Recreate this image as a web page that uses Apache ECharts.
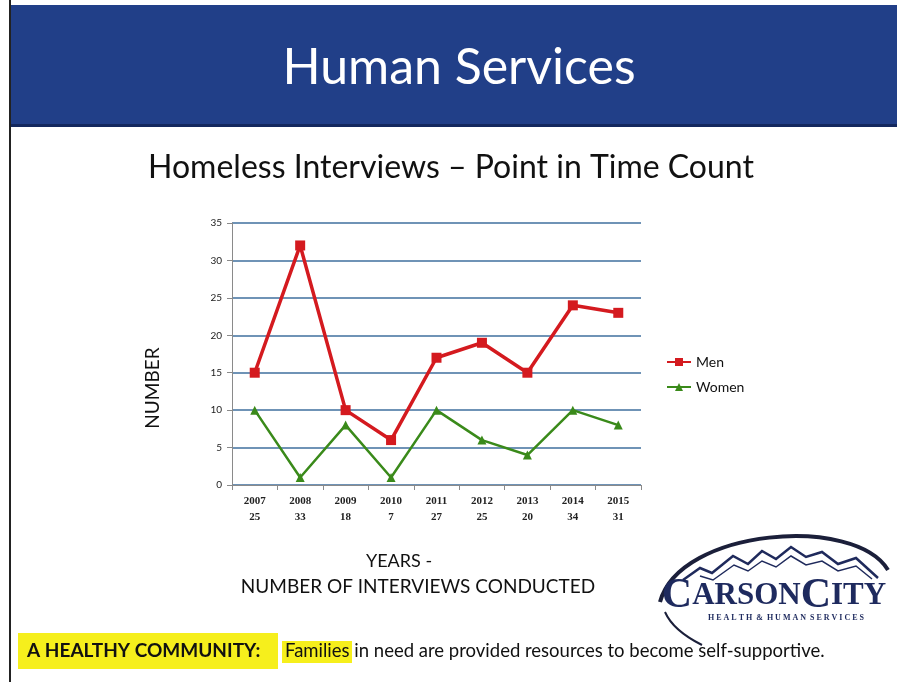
<!DOCTYPE html>
<html>
<head>
<meta charset="utf-8">
<script src="https://cdn.jsdelivr.net/npm/echarts@6/dist/echarts.min.js"></script>
<style>
  html, body { margin: 0; padding: 0; background: #fff; }
  #main { width: 897px; height: 682px; }
</style>
</head>
<body>
<div id="main"></div>
<script>
// years and number of interviews conducted (two-line tick labels)
const years = ['2007', '2008', '2009', '2010', '2011', '2012', '2013', '2014', '2015'];
const interviews = [25, 33, 18, 7, 27, 25, 20, 34, 31];
const men = [15, 32, 10, 6, 17, 19, 15, 24, 23];
const women = [10, 1, 8, 1, 10, 6, 4, 10, 8];

const categories = years.map((y, i) => y + '\n' + interviews[i]);
const font = 'Lato, "Open Sans", sans-serif';

const chart = echarts.init(document.getElementById('main'));

const option = {
  backgroundColor: '#ffffff',
  animation: false,
  grid: { left: 232, top: 223, right: 256, bottom: 197, containLabel: false },
  legend: {
    orient: 'vertical',
    left: 661,
    top: 350,
    itemGap: 11,
    itemWidth: 24,
    itemHeight: 10,
    textStyle: { fontFamily: font, fontSize: 14, color: '#111' },
    data: ['Men', 'Women']
  },
  xAxis: {
    type: 'category',
    data: categories,
    boundaryGap: true,
    axisLine: { lineStyle: { color: '#8a8a8a', width: 1 } },
    axisTick: { show: true, alignWithLabel: false, lineStyle: { color: '#8a8a8a' } },
    axisLabel: { fontFamily: '"Liberation Serif", serif', fontSize: 11, fontWeight: 'bold', color: '#222', lineHeight: 16, margin: 8 }
  },
  yAxis: {
    type: 'value',
    min: 0,
    max: 35,
    interval: 5,
    axisLine: { show: true, lineStyle: { color: '#8a8a8a', width: 1 } },
    axisTick: { show: true, length: 5, lineStyle: { color: '#8a8a8a' } },
    axisLabel: { fontFamily: font, fontSize: 10, color: '#222', margin: 10 },
    splitLine: { lineStyle: { color: '#3f6f9e', width: 1.5 } }
  },
  series: [
    {
      name: 'Men',
      type: 'line',
      data: men,
      symbol: 'rect',
      symbolSize: 10,
      lineStyle: { color: '#d41a1f', width: 3.5 },
      itemStyle: { color: '#d41a1f' },
      z: 3
    },
    {
      name: 'Women',
      type: 'line',
      data: women,
      symbol: 'triangle',
      symbolSize: 9,
      lineStyle: { color: '#3a8a1a', width: 2.5 },
      itemStyle: { color: '#3a8a1a' },
      z: 2
    }
  ],
  graphic: [
    // slide frame and header banner
    { type: 'rect', shape: { x: 10, y: 5, width: 887, height: 120 }, style: { fill: '#213f88' }, z: -1 },
    { type: 'rect', shape: { x: 10, y: 124, width: 887, height: 3 }, style: { fill: '#14285e' }, z: -1 },
    { type: 'line', shape: { x1: 10, y1: 0, x2: 10, y2: 682 }, style: { stroke: '#222', lineWidth: 2 } },
    { type: 'text', x: 459, y: 68, style: { text: 'Human Services', fill: '#ffffff', font: '50px ' + font, align: 'center', verticalAlign: 'middle' } },
    { type: 'text', x: 451, y: 168, style: { text: 'Homeless Interviews \u2013 Point in Time Count', fill: '#111', font: '32px ' + font, align: 'center', verticalAlign: 'middle' } },
    // axis titles
    { type: 'text', x: 153, y: 388, rotation: Math.PI / 2, style: { text: 'NUMBER', fill: '#111', font: '19px ' + font, align: 'center', verticalAlign: 'middle' } },
    { type: 'text', x: 399, y: 561, style: { text: 'YEARS -', fill: '#111', font: '18px ' + font, align: 'center', verticalAlign: 'middle' } },
    { type: 'text', x: 418, y: 587, style: { text: 'NUMBER OF INTERVIEWS CONDUCTED', fill: '#111', font: '19px ' + font, align: 'center', verticalAlign: 'middle' } },
    // logo
    { type: 'bezierCurve', shape: { x1: 660, y1: 602, cpx1: 680, cpy1: 528, cpx2: 855, cpy2: 515, x2: 888, y2: 570 }, style: { stroke: '#1b1f3a', lineWidth: 4, fill: null } },
    { type: 'bezierCurve', shape: { x1: 665, y1: 612, cpx1: 672, cpy1: 628, cpx2: 688, cpy2: 638, x2: 702, y2: 645 }, style: { stroke: '#1b1f3a', lineWidth: 2, fill: null } },
    { type: 'polyline', shape: { points: [[683, 580], [700, 568], [712, 573], [733, 556], [748, 564], [762, 551], [776, 559], [791, 547], [806, 557], [822, 552], [838, 564], [856, 558], [878, 578]] }, style: { stroke: '#1f2a5c', lineWidth: 2.5, fill: null } },
    { type: 'polyline', shape: { points: [[700, 576], [713, 580], [734, 565], [748, 571], [762, 561], [776, 567], [791, 556], [806, 565], [822, 561], [838, 571], [856, 566], [872, 579]] }, style: { stroke: '#1f2a5c', lineWidth: 1.5, fill: null } },
    { type: 'text', x: 774, y: 596, style: {
        text: '{b|C}{s|ARSON}{b|C}{s|ITY}', align: 'center', verticalAlign: 'middle',
        rich: {
          b: { font: 'bold 42px "Liberation Serif", serif', fill: '#1e2a5e' },
          s: { font: 'bold 31px "Liberation Serif", serif', fill: '#1e2a5e' }
        }
      } },
    { type: 'text', x: 786, y: 618, style: { text: 'H E A L T H  &  H U M A N  S E R V I C E S', fill: '#1e2a5e', font: 'bold 8px "Liberation Serif", serif', align: 'center', verticalAlign: 'middle' } },
    // footer
    { type: 'rect', shape: { x: 18, y: 633, width: 260, height: 36 }, style: { fill: '#f6ef1c' } },
    { type: 'rect', shape: { x: 282, y: 641, width: 70, height: 22 }, style: { fill: '#f6ef1c' } },
    { type: 'text', x: 27, y: 651, style: { text: 'A HEALTHY COMMUNITY:', fill: '#111', font: 'bold 19px ' + font, verticalAlign: 'middle' } },
    { type: 'text', x: 285, y: 651, style: { text: 'Families in need are provided resources to become self-supportive.', fill: '#111', font: '18.5px ' + font, verticalAlign: 'middle' } }
  ]
};

chart.setOption(option);
</script>
</body>
</html>
